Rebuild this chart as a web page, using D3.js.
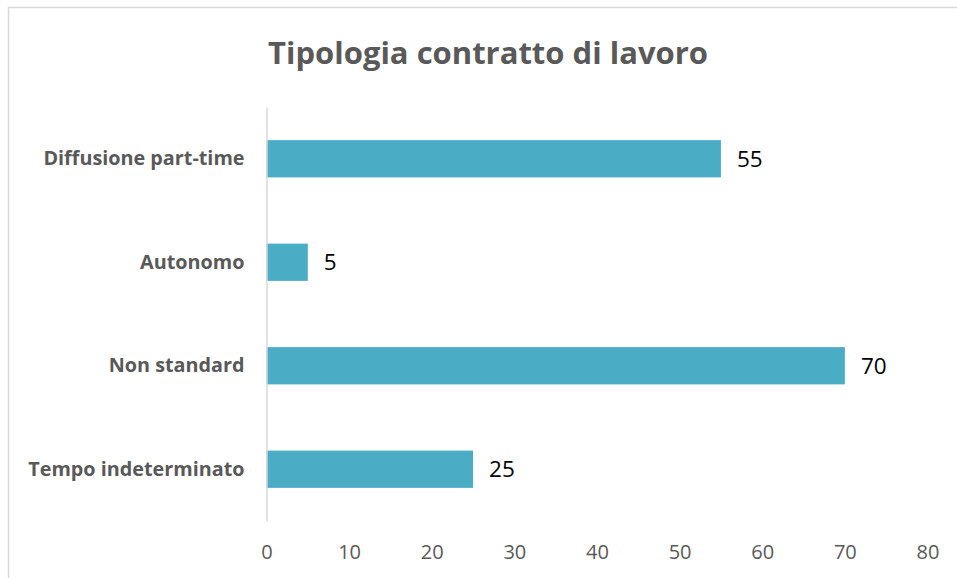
<!DOCTYPE html>
<html>
<head>
<meta charset="utf-8">
<script src="https://cdn.jsdelivr.net/npm/d3@7"></script>
<style>
body { margin: 0; background: #fff; }
text { font-family: "Open Sans", sans-serif; }
</style>
</head>
<body>
<svg id="chart" width="957" height="578"></svg>
<script>
// chart data
var categories = ["Diffusione part-time", "Autonomo", "Non standard", "Tempo indeterminato"];
var values = [55, 5, 70, 25];
var xTicks = [0, 10, 20, 30, 40, 50, 60, 70, 80];
var title = "Tipologia contratto di lavoro";

var svg = d3.select("#chart");

// outer frame (only top and left edges fall inside the picture)
svg.append("rect")
	.attr("x", 8.5).attr("y", 7.5)
	.attr("width", 1000).attr("height", 1000)
	.attr("fill", "none")
	.attr("stroke", "#d9d9d9")
	.attr("stroke-width", 1.5);

var margin = {top: 107, left: 266.5, right: 29.5, bottom: 57};
var width = 957 - margin.left - margin.right,
    height = 578 - margin.top - margin.bottom;

var x = d3.scaleLinear().domain([0, 80]).range([0, width]);
var y = d3.scaleBand().domain(categories).range([0, height]).paddingInner(0.64).paddingOuter(0.32);

var g = svg.append("g").attr("transform", "translate(" + margin.left + "," + margin.top + ")");

// title
svg.append("text")
	.attr("x", 488).attr("y", 64)
	.attr("text-anchor", "middle")
	.attr("font-size", 31)
	.attr("font-weight", "bold")
	.attr("fill", "#595959")
	.text(title);

// bars
g.selectAll(".bar")
	.data(values)
	.enter().append("rect")
	.attr("class", "bar")
	.attr("x", 0)
	.attr("y", function(d, i) { return y(categories[i]); })
	.attr("width", function(d) { return x(d); })
	.attr("height", y.bandwidth())
	.attr("fill", "#4BACC6");

// value labels
g.selectAll(".val")
	.data(values)
	.enter().append("text")
	.attr("class", "val")
	.attr("x", function(d) { return x(d) + 16; })
	.attr("y", function(d, i) { return y(categories[i]) + y.bandwidth() / 2; })
	.attr("dy", "0.36em")
	.attr("font-size", 22.5)
	.attr("fill", "#000")
	.text(function(d) { return d; });

// x axis (labels only)
var xAxis = d3.axisBottom(x).tickValues(xTicks).tickSize(0).tickPadding(0);
var xg = g.append("g").attr("transform", "translate(0," + (height + 24) + ")").call(xAxis);
xg.select(".domain").remove();
xg.selectAll("text").attr("font-size", 20).attr("fill", "#595959").attr("font-family", "Open Sans, sans-serif");

// y axis
var yAxis = d3.axisLeft(y).tickSize(0).tickPadding(22);
var yg = g.append("g").call(yAxis);
yg.select(".domain").attr("stroke", "#d9d9d9").attr("stroke-width", 1.5);
yg.selectAll("text").attr("font-size", 19.8).attr("font-weight", "bold").attr("fill", "#595959").attr("font-family", "Open Sans, sans-serif");
</script>
</body>
</html>
